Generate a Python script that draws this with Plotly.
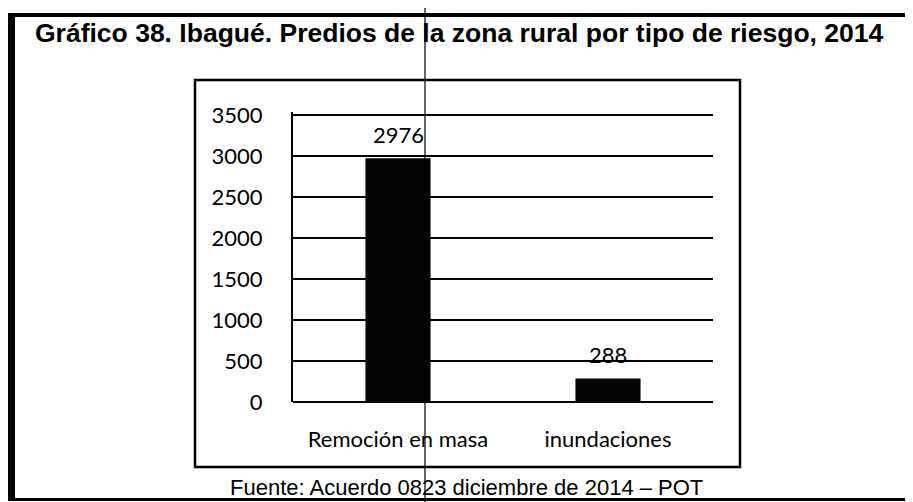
import plotly.graph_objects as go

categories = ["Remoción en masa", "inundaciones"]
values = [2976, 288]
value_labels = ["2976", "288"]
y_ticks = [0, 500, 1000, 1500, 2000, 2500, 3000, 3500]
y_max = 3540
title_text = "Gráfico 38. Ibagué. Predios de la zona rural por tipo de riesgo, 2014"
source_text = "Fuente: Acuerdo 0823 diciembre de 2014 – POT"

# page has an 8px body margin; figure is sized to fill the remaining window
OFF = 8
W, H = 913 - OFF, 502 - OFF
# plot area in window pixels: x 293..713, y 112..402
ML, MR, MT, MB = 293 - OFF, 913 - 713, 112 - OFF, 502 - 402

def px(x):
    return (x - OFF - ML) / (W - ML - MR)

def py(y):
    return (H - MB - (y - OFF)) / (H - MT - MB)

fig = go.Figure()
fig.add_trace(go.Bar(
    x=categories, y=values,
    marker=dict(color="#050505", line=dict(width=0)),
    hoverinfo="skip",
))

for c, v, t in zip(categories, values, value_labels):
    fig.add_annotation(x=c, y=v, text=t, showarrow=False, yanchor="middle",
                       yshift=24, font=dict(family="Lato", size=22, color="#000"))

shapes = []
# inner chart frame
shapes.append(dict(type="rect", xref="paper", yref="paper",
                   x0=px(195), x1=px(740), y0=py(467), y1=py(80),
                   line=dict(color="#000", width=2.5), layer="below"))
# outer frame: left thick bar, top and bottom lines
shapes.append(dict(type="rect", xref="paper", yref="paper",
                   x0=px(8), x1=px(15), y0=py(500), y1=py(13),
                   line=dict(width=0), fillcolor="#000"))
shapes.append(dict(type="line", xref="paper", yref="paper",
                   x0=px(8), x1=px(913), y0=py(15), y1=py(15),
                   line=dict(color="#000", width=4)))
shapes.append(dict(type="line", xref="paper", yref="paper",
                   x0=px(8), x1=px(913), y0=py(499.5), y1=py(499.5),
                   line=dict(color="#000", width=3)))
# scan artifact vertical line
shapes.append(dict(type="line", xref="paper", yref="paper",
                   x0=px(425), x1=px(425), y0=py(8), y1=py(502),
                   line=dict(color="#000", width=1.2)))

fig.add_annotation(xref="paper", yref="paper", x=px(459), y=py(33),
                   text="<b>" + title_text + "</b>", showarrow=False,
                   xanchor="center", yanchor="middle",
                   font=dict(family="Liberation Sans", size=26.5, color="#000"))
fig.add_annotation(xref="paper", yref="paper", x=px(466), y=py(487),
                   text=source_text, showarrow=False,
                   xanchor="center", yanchor="middle",
                   font=dict(family="Liberation Sans", size=22, color="#000"))

fig.update_layout(
    width=W, height=H,
    margin=dict(l=ML, r=MR, t=MT, b=MB),
    paper_bgcolor="#fff", plot_bgcolor="#fff",
    showlegend=False,
    bargap=0.69,
    shapes=shapes,
    font=dict(family="Lato", color="#000"),
)
fig.update_yaxes(range=[0, y_max], tickvals=y_ticks, ticktext=[str(t) for t in y_ticks],
                 showgrid=True, gridcolor="#000", gridwidth=2,
                 zeroline=True, zerolinecolor="#000", zerolinewidth=2,
                 showline=True, linecolor="#000", linewidth=2,
                 ticks="", ticklabelstandoff=24,
                 tickfont=dict(family="Lato", size=22, color="#000"))
fig.update_xaxes(showgrid=False, showline=False, ticks="", ticklabelstandoff=22,
                 tickfont=dict(family="Lato", size=22, color="#000"))

fig.write_html("out.html")
